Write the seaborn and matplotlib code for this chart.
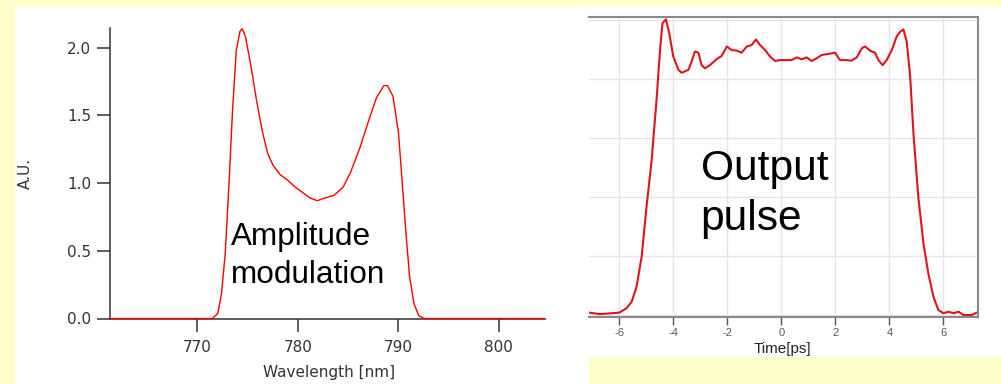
import matplotlib
matplotlib.use("Agg")
import matplotlib.pyplot as plt
from matplotlib.patches import Rectangle
import seaborn as sns
import numpy as np

# ---- data: spectrum (left) ----
wavelength_nm = [761.3, 771.48, 772.03, 772.40, 772.77, 773.13, 773.50, 773.87, 774.24, 774.46,
                 774.79, 775.34, 775.89, 776.44, 776.99, 777.54, 778.27, 779.01, 779.74, 780.48,
                 781.21, 781.94, 782.68, 783.60, 784.51, 785.25, 786.17, 787.09, 787.82, 788.56,
                 788.92, 789.47, 790.02, 790.39, 790.76, 791.12, 791.56, 792.04, 792.60, 804.6]
spectrum_au = [0.0, 0.0, 0.037, 0.185, 0.48, 0.97, 1.54, 1.98, 2.12, 2.14,
               2.08, 1.86, 1.61, 1.39, 1.22, 1.13, 1.06, 1.02, 0.97, 0.93,
               0.89, 0.87, 0.89, 0.91, 0.97, 1.08, 1.26, 1.47, 1.63, 1.72,
               1.72, 1.64, 1.37, 1.00, 0.63, 0.31, 0.11, 0.02, 0.0, 0.0]

# ---- data: output pulse (right) ----
time_ps = [-7.12, -6.72, -6.0, -5.73, -5.54, -5.36, -5.17, -4.99, -4.80, -4.62,
           -4.49, -4.40, -4.27, -4.15, -4.0, -3.81, -3.69, -3.44, -3.32, -3.20,
           -3.07, -2.95, -2.83, -2.64, -2.40, -2.21, -2.02, -1.84, -1.65, -1.47,
           -1.28, -1.10, -0.94, -0.79, -0.60, -0.42, -0.23, -0.05, 0.20, 0.38,
           0.57, 0.75, 0.94, 1.12, 1.31, 1.49, 1.74, 1.99, 2.17, 2.42,
           2.60, 2.79, 2.98, 3.10, 3.28, 3.47, 3.59, 3.75, 3.90, 4.09,
           4.27, 4.40, 4.52, 4.64, 4.77, 4.89, 5.07, 5.26, 5.44, 5.63,
           5.81, 6.0, 6.19, 6.37, 6.56, 6.74, 7.05, 7.23]
pulse = [0.008, 0.003, 0.008, 0.023, 0.045, 0.096, 0.198, 0.367, 0.525, 0.729,
         0.898, 0.989, 1.002, 0.955, 0.876, 0.831, 0.821, 0.831, 0.859, 0.893,
         0.889, 0.847, 0.836, 0.847, 0.867, 0.878, 0.910, 0.898, 0.896, 0.889,
         0.910, 0.915, 0.934, 0.915, 0.898, 0.876, 0.861, 0.864, 0.864, 0.864,
         0.873, 0.867, 0.873, 0.861, 0.870, 0.881, 0.885, 0.889, 0.864, 0.864,
         0.862, 0.873, 0.904, 0.910, 0.896, 0.889, 0.864, 0.847, 0.864, 0.898,
         0.944, 0.960, 0.968, 0.927, 0.808, 0.616, 0.401, 0.243, 0.141, 0.062,
         0.017, 0.006, 0.011, 0.006, 0.011, 0.0, 0.0, 0.008]

left_xticks = [770, 780, 790, 800]
left_yticks = [0.0, 0.5, 1.0, 1.5, 2.0]
left_yticklabels = ["0.0", "0.5", "1.0", "1.5", "2.0"]
right_xticks = [-6, -4, -2, 0, 2, 4, 6]
right_ygrid = [0.0, 0.2, 0.4, 0.6, 0.8, 1.0]

sns.set_style("ticks")
plt.rcParams['font.family'] = ['DejaVu Sans']

W, H = 1001, 384
fig = plt.figure(figsize=(W / 100, H / 100), dpi=100)
fig.patch.set_facecolor("#FFFFCC")

def fx(px):
    return px / W

def fy(py):
    return 1 - py / H

# white panels (behind axes)
fig.patches.append(Rectangle((fx(15), 0), fx(589 - 15), fy(7), transform=fig.transFigure,
                             facecolor="white", edgecolor="none", zorder=-10))
fig.patches.append(Rectangle((fx(589), fy(357)), fx(W - 589), fy(7) - fy(357),
                             transform=fig.transFigure, facecolor="white", edgecolor="none", zorder=-10))

# ---- left axes ----
ax1 = fig.add_axes([fx(110), fy(318.5), fx(545 - 110), (318.5 - 28.3) / H])
ax1.set_facecolor("none")
sns.lineplot(x=wavelength_nm, y=spectrum_au, ax=ax1, color="#FF0000", linewidth=1.0)
for ln in ax1.lines:
    ln.set_clip_on(False)
    ln.set_zorder(5)
ax1.set_xlim(761.3, 804.6)
ax1.set_ylim(0, 2.143)
ax1.set_xticks(left_xticks)
ax1.set_xticklabels([str(v) for v in left_xticks])
ax1.set_yticks(left_yticks)
ax1.set_yticklabels(left_yticklabels)
for s in ["top", "right"]:
    ax1.spines[s].set_visible(False)
for s in ["left", "bottom"]:
    ax1.spines[s].set_color("#333333")
    ax1.spines[s].set_linewidth(1.1)
ax1.tick_params(axis="both", direction="out", length=9.5, width=1.1, color="#333333",
                labelcolor="#333333", labelsize=11)
ax1.tick_params(axis="x", pad=6)
ax1.tick_params(axis="y", pad=4)
ax1.set_xlabel("Wavelength [nm]", fontsize=11, color="#333333")
ax1.set_ylabel("A.U.", fontsize=11, color="#333333")
ax1.xaxis.set_label_coords(0.503, -0.16)
ax1.yaxis.set_label_coords(-0.177, 0.5)

# ---- right axes ----
ax2 = fig.add_axes([fx(589), fy(317), fx(978 - 589), 300 / H])
ax2.set_facecolor("white")
ax2.set_xlim(-7.12, 7.28)
ax2.set_ylim(-0.0068, 1.010)
ax2.set_xticks(right_xticks)
ax2.set_xticklabels([str(v) for v in right_xticks], fontsize=8, color="#555555",
                    family="Liberation Sans")
ax2.set_yticks(right_ygrid)
ax2.set_yticklabels([])
ax2.grid(True, color="#E4E4F2", linewidth=1.0)
ax2.set_axisbelow(True)
sns.lineplot(x=time_ps, y=pulse, ax=ax2, color="#E0141C", linewidth=1.5)
ax2.spines["left"].set_visible(False)
for s in ["top", "right", "bottom"]:
    ax2.spines[s].set_color("#8A8A8A")
    ax2.spines[s].set_linewidth(1.5)
ax2.tick_params(axis="x", direction="out", length=6, width=1.0, color="#555555", pad=2)
ax2.tick_params(axis="y", length=0)
ax2.set_xlabel("Time[ps]", fontsize=11, color="#222222", family="Liberation Sans")
ax2.xaxis.set_label_coords(0.496, -0.083)

# ---- annotations ----
fig.text(fx(230.6), fy(245), "Amplitude", fontsize=22.7, family="Liberation Sans",
         color="black", va="baseline", ha="left")
fig.text(fx(230.6), fy(283), "modulation", fontsize=22.7, family="Liberation Sans",
         color="black", va="baseline", ha="left")
fig.text(fx(700.7), fy(180), "Output", fontsize=30.6, family="Liberation Sans",
         color="black", va="baseline", ha="left")
fig.text(fx(700.7), fy(230), "pulse", fontsize=30.6, family="Liberation Sans",
         color="black", va="baseline", ha="left")

fig.savefig("out.png", dpi=100, facecolor=fig.get_facecolor())
